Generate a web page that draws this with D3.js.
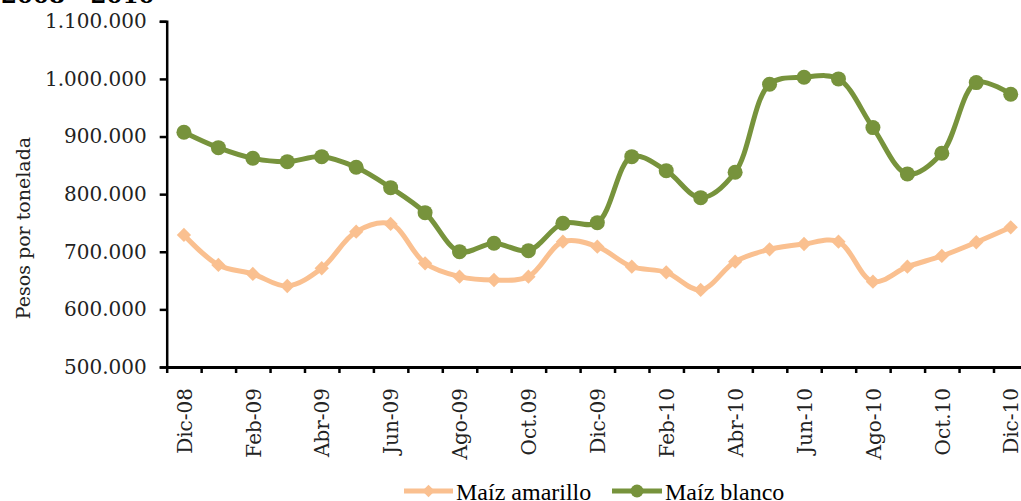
<!DOCTYPE html>
<html>
<head>
<meta charset="utf-8">
<script src="https://cdn.jsdelivr.net/npm/d3@7"></script>
<style>
  body { margin: 0; background: #fff; }
  svg { display: block; }
</style>
</head>
<body>
<div id="chart"></div>
<script>
// Precio del maíz amarillo y blanco, Dic-08 a Dic-10

// Categories (months)
var months = ["Dic-08", "Ene-09", "Feb-09", "Mar-09", "Abr-09", "May-09", "Jun-09", "Jul-09",
  "Ago-09", "Sep-09", "Oct.09", "Nov-09", "Dic-09", "Ene-10", "Feb-10", "Mar-10", "Abr-10",
  "May-10", "Jun-10", "Jul-10", "Ago-10", "Sep-10", "Oct.10", "Nov-10", "Dic-10"];

// Series values (pesos por tonelada)
var amarillo = [729200, 677100, 661500, 640600, 671400, 734900, 748300, 680000,
  656800, 651000, 656800, 717500, 708900, 674100, 664400, 633700, 682800,
  704300, 713500, 717500, 648100, 674100, 692700, 716500, 742500];
var blanco = [907500, 880700, 862300, 856400, 865100, 846700, 811300, 767900,
  700200, 714800, 701900, 749500, 750500, 865100, 840800, 793900, 838000,
  990800, 1002900, 1000000, 915500, 835100, 871000, 993600, 973400];

// Tick values
var yTicks = [500000, 600000, 700000, 800000, 900000, 1000000, 1100000];
var seriesNames = ["Maíz amarillo", "Maíz blanco"];

var svgWidth = 1021;
var svgHeight = 501;

var svg = d3.select("#chart").append("svg")
    .attr("width", svgWidth)
    .attr("height", svgHeight);

var serif = "'DejaVu Serif', serif";

// Scales
var plotLeft = 166.7;
var step = 34.45;
var xBand = d3.scaleBand()
    .domain(months)
    .range([plotLeft, plotLeft + step * months.length])
    .paddingInner(0)
    .paddingOuter(0);
var xEdge = d3.scaleLinear()
    .domain([0, months.length])
    .range([plotLeft, plotLeft + step * months.length]);
var xc = d => xBand(d) + xBand.bandwidth() / 2;

var yScale = d3.scaleLinear()
    .domain([500000, 1100000])
    .range([367, 21.3]);

var fmt = d3.formatLocale({decimal: ",", thousands: ".", grouping: [3], currency: ["$", ""]}).format(",");

// Cropped title at the very top
svg.append("text")
    .attr("x", 1)
    .attr("y", 3)
    .attr("font-family", serif)
    .attr("font-weight", "bold")
    .attr("font-size", "23px")
    .attr("fill", "#000")
    .text("2008 - 2010");

// Y axis
var yAxis = svg.append("g")
    .attr("transform", `translate(${plotLeft},0)`)
    .call(d3.axisLeft(yScale).tickValues(yTicks).tickFormat(fmt).tickSize(7).tickPadding(13));
yAxis.select(".domain").attr("stroke", "#000").attr("stroke-width", 2.5);
yAxis.selectAll(".tick line").attr("stroke", "#000").attr("stroke-width", 2.5);
yAxis.selectAll(".tick text")
    .attr("font-family", serif)
    .attr("font-size", "20px")
    .attr("fill", "#222");

// X axis tick marks (between categories)
var xTicksG = svg.append("g")
    .attr("transform", `translate(0,${yScale(500000)})`)
    .call(d3.axisBottom(xEdge).tickValues(d3.range(0, months.length + 1)).tickFormat("").tickSize(6).tickSizeOuter(0));
xTicksG.select(".domain").attr("stroke", "#000").attr("stroke-width", 3);
xTicksG.selectAll(".tick line").attr("stroke", "#000").attr("stroke-width", 2.5);

// X labels every second month, rotated
svg.append("g")
    .selectAll("text")
    .data(months.filter((m, i) => i % 2 === 0))
    .enter()
    .append("text")
    .attr("transform", d => `translate(${xc(d) + 0.5},388) rotate(-90)`)
    .attr("text-anchor", "end")
    .attr("dy", "0.36em")
    .attr("font-family", serif)
    .attr("font-size", "20px")
    .attr("fill", "#222")
    .text(d => d);

// Y axis title
svg.append("text")
    .attr("transform", "translate(23,228) rotate(-90)")
    .attr("text-anchor", "middle")
    .attr("dy", "0.36em")
    .attr("font-family", serif)
    .attr("font-size", "19px")
    .attr("fill", "#222")
    .text("Pesos por tonelada");

// Lines
var line = d3.line()
    .x((d, i) => xc(months[i]))
    .y(d => yScale(d))
    .curve(d3.curveCatmullRom.alpha(0.5));

var orange = "#FAC090";
var green = "#77933C";

svg.append("path")
    .datum(amarillo)
    .attr("d", line)
    .attr("fill", "none")
    .attr("stroke", orange)
    .attr("stroke-width", 5);

svg.append("path")
    .datum(blanco)
    .attr("d", line)
    .attr("fill", "none")
    .attr("stroke", green)
    .attr("stroke-width", 5);

// Markers
var diamond = d3.symbol().type(d3.symbolDiamond2).size(130);
svg.append("g")
    .selectAll("path")
    .data(amarillo)
    .enter()
    .append("path")
    .attr("d", diamond)
    .attr("transform", (d, i) => `translate(${xc(months[i])},${yScale(d)})`)
    .attr("fill", orange);

svg.append("g")
    .selectAll("circle")
    .data(blanco)
    .enter()
    .append("circle")
    .attr("cx", (d, i) => xc(months[i]))
    .attr("cy", d => yScale(d))
    .attr("r", 7.5)
    .attr("fill", green);

// Legend
var legendY = 491;
var legend = [
  {name: seriesNames[0], color: orange, x0: 404, x1: 453, kind: "diamond"},
  {name: seriesNames[1], color: green, x0: 612, x1: 662, kind: "circle"}
];
legend.forEach(function(item) {
  svg.append("line")
      .attr("x1", item.x0).attr("x2", item.x1)
      .attr("y1", legendY).attr("y2", legendY)
      .attr("stroke", item.color)
      .attr("stroke-width", 5);
  var mx = (item.x0 + item.x1) / 2;
  if (item.kind === "diamond") {
    svg.append("path")
        .attr("d", d3.symbol().type(d3.symbolDiamond2).size(100))
        .attr("transform", `translate(${mx},${legendY})`)
        .attr("fill", item.color);
  } else {
    svg.append("circle")
        .attr("cx", mx).attr("cy", legendY).attr("r", 6.5)
        .attr("fill", item.color);
  }
  svg.append("text")
      .attr("x", item.x1 + 3)
      .attr("y", legendY)
      .attr("dy", "0.36em")
      .attr("font-family", "'Liberation Serif', serif")
      .attr("font-size", "24px")
      .attr("fill", "#000")
      .text(item.name);
});
</script>
</body>
</html>
